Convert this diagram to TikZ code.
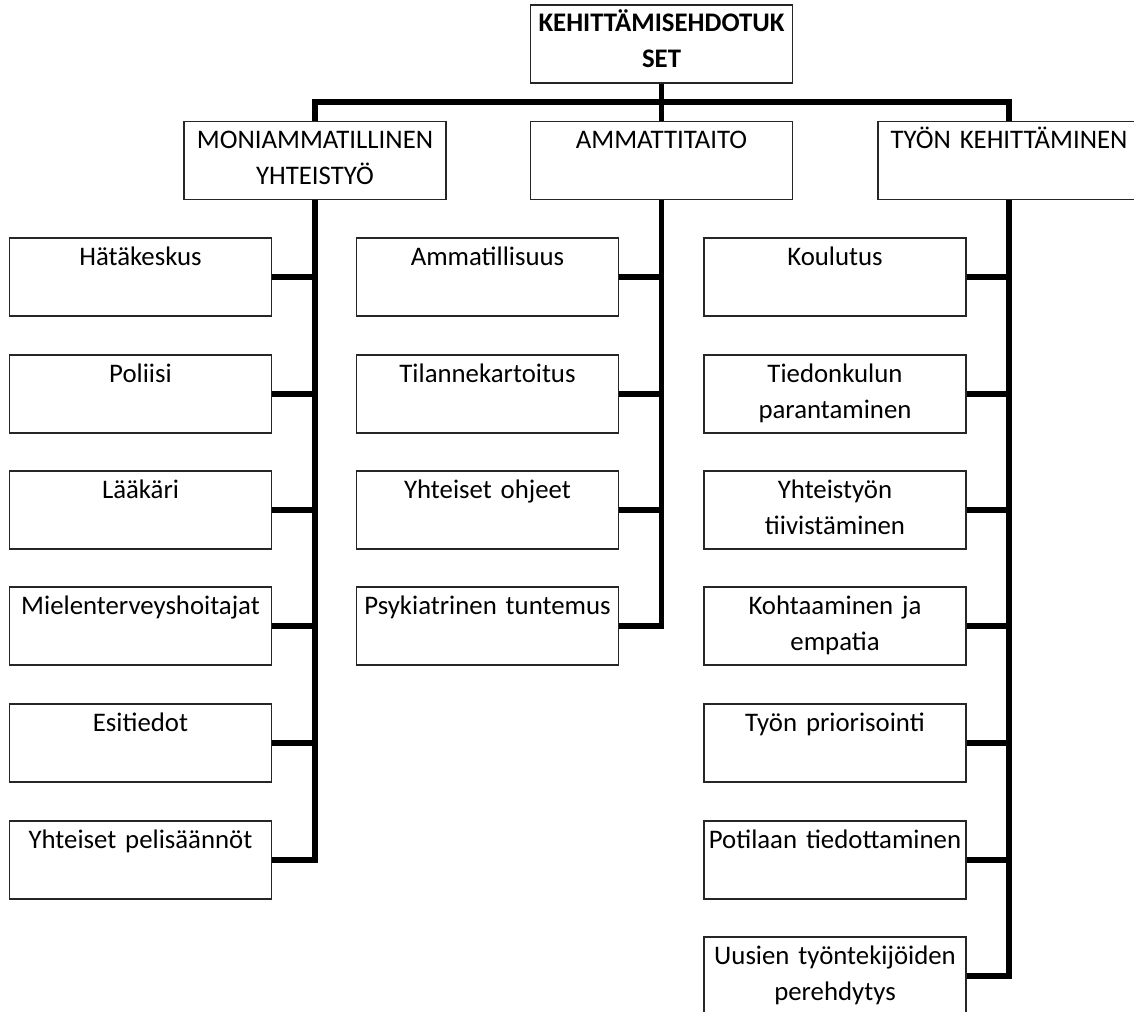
\documentclass[tikz,border=0pt]{standalone}
\usepackage{fontspec}
\setmainfont{Carlito}
\usepackage{tikz}

\tikzset{
  card/.style={draw=black!85, line width=1.2pt, inner sep=0pt,
    minimum width=262pt, minimum height=78pt, text width=262pt,
    align=center, text height=27pt, text depth=51pt,
    font=\fontsize{26.8pt}{36pt}\selectfont},
  branch/.style={line width=5.5pt},
}

\begin{document}
\begin{tikzpicture}[x=1pt,y=-1pt]
    \clip (0,0) rectangle (1134,1011);

    % draw top node
    \node[card, font=\fontsize{26.8pt}{36pt}\selectfont\bfseries] (top) at (661.5,44) {KEHITTÄMISEHDOTUK\\SET};

    % draw second level
    \node[card] (moni) at (315,160.5) {MONIAMMATILLINEN\\YHTEISTYÖ};
    \node[card] (amm) at (661.5,160.5) {AMMATTITAITO};
    \node[card] (tyon) at (1009,160.5) {TYÖN KEHITTÄMINEN};

    % draw leaves
    \foreach \name/\y/\txt in {moni1/277/Hätäkeskus, moni2/394/Poliisi,
        moni3/510/Lääkäri, moni4/626/Mielenterveyshoitajat,
        moni5/743/Esitiedot, moni6/860/Yhteiset pelisäännöt}
    \node[card] (\name) at (140.5,\y) {\txt};

    \foreach \name/\y/\txt in {amm1/277/Ammatillisuus, amm2/394/Tilannekartoitus,
        amm3/510/Yhteiset ohjeet, amm4/626/Psykiatrinen tuntemus}
    \node[card] (\name) at (487.5,\y) {\txt};

    \foreach \name/\y/\txt in {tyon1/277/Koulutus,
        tyon2/394/{Tiedonkulun\\parantaminen},
        tyon3/510/{Yhteistyön\\tiivistäminen},
        tyon4/626/{Kohtaaminen ja\\empatia},
        tyon5/743/Työn priorisointi,
        tyon6/860/Potilaan tiedottaminen,
        tyon7/976/{Uusien työntekijöiden\\perehdytys}}
    \node[card] (\name) at (835,\y) {\txt};

    % draw top connectors
    \coordinate (bar) at (661.5,102);
    \draw[branch] (moni.north) |- (bar) -| (tyon.north);
    \draw[branch] (top.south) -- (amm.north);

    % draw trunks and side connectors
    \foreach \i in {1,...,5}
    \draw[branch] (moni\i.east) -- (moni\i.east -| moni.south);
    \draw[branch] (moni.south) |- (moni6.east);

    \foreach \i in {1,...,3}
    \draw[branch] (amm\i.east) -- (amm\i.east -| amm.south);
    \draw[branch] (amm.south) |- (amm4.east);

    \foreach \i in {1,...,6}
    \draw[branch] (tyon\i.east) -- (tyon\i.east -| tyon.south);
    \draw[branch] (tyon.south) |- (tyon7.east);

\end{tikzpicture}
\end{document}
